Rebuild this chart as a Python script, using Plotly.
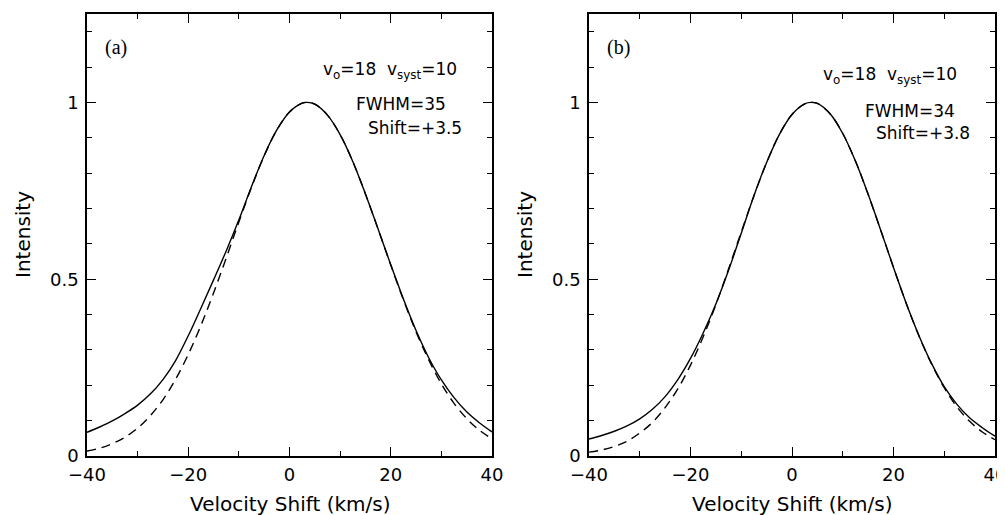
import plotly.graph_objects as go

# ---- data ----
velocity = [-40, -37.5, -35, -32.5, -30, -27.5, -25, -22.5, -20, -17.5, -15, -12.5, -10,
            -7.5, -5, -2.5, 0, 2.5, 3.5, 5, 7.5, 10, 12.5, 15, 17.5, 20, 22.5, 25,
            27.5, 30, 32.5, 35, 37.5, 40]

# panel (a)
a_profile = [0.067, 0.082, 0.099, 0.120, 0.144, 0.175, 0.216, 0.270, 0.340, 0.418, 0.498, 0.580, 0.668,
             0.762, 0.850, 0.922, 0.973, 0.998, 1.000, 0.995, 0.964, 0.909, 0.833, 0.741, 0.642, 0.541, 0.444, 0.355,
             0.278, 0.215, 0.165, 0.125, 0.094, 0.068]
a_fit = [0.014, 0.022, 0.035, 0.053, 0.079, 0.114, 0.159, 0.217, 0.287, 0.369, 0.461, 0.560, 0.662,
         0.760, 0.849, 0.922, 0.973, 0.998, 1.000, 0.995, 0.964, 0.909, 0.833, 0.741, 0.642, 0.540, 0.442, 0.351,
         0.272, 0.204, 0.149, 0.106, 0.073, 0.049]

velocity_b = [-40, -37.5, -35, -32.5, -30, -27.5, -25, -22.5, -20, -17.5, -15, -12.5, -10,
              -7.5, -5, -2.5, 0, 2.5, 3.8, 5, 7.5, 10, 12.5, 15, 17.5, 20, 22.5, 25,
              27.5, 30, 32.5, 35, 37.5, 40]
# panel (b)
b_profile = [0.048, 0.058, 0.070, 0.085, 0.105, 0.132, 0.168, 0.216, 0.276, 0.348, 0.430, 0.525, 0.630,
             0.736, 0.830, 0.909, 0.966, 0.996, 1.000, 0.997, 0.968, 0.912, 0.834, 0.740, 0.638, 0.533, 0.432, 0.341,
             0.262, 0.196, 0.146, 0.108, 0.080, 0.056]
b_fit = [0.011, 0.017, 0.027, 0.042, 0.065, 0.095, 0.137, 0.190, 0.257, 0.337, 0.428, 0.529, 0.633,
         0.736, 0.830, 0.909, 0.966, 0.996, 1.000, 0.997, 0.968, 0.912, 0.834, 0.740, 0.638, 0.533, 0.432, 0.340,
         0.260, 0.193, 0.139, 0.098, 0.068, 0.046]

panel_labels = ["(a)", "(b)"]
param_text = ["v<sub>o</sub>=18&nbsp;&nbsp;v<sub>syst</sub>=10", "v<sub>o</sub>=18&nbsp;&nbsp;v<sub>syst</sub>=10"]
fwhm_text = ["FWHM=35", "FWHM=34"]
shift_text = ["Shift=+3.5", "Shift=+3.8"]
x_ticks = [-40, -20, 0, 20, 40]
y_ticks = [0, 0.5, 1]
x_title = "Velocity Shift (km/s)"
y_title = "Intensity"

W, H = 1005, 515
OFF = 8  # page body margin: page px = figure px + OFF
FONT = "DejaVu Sans"

def fx(px):
    return (px - OFF) / W

def fy(py):
    return 1 - (py - OFF) / H

fig = go.Figure()

line_solid = dict(color="black", width=1.4, shape="spline", smoothing=1.0)
line_dash = dict(color="black", width=1.4, dash="9px,6px", shape="spline", smoothing=1.0)

fig.add_trace(go.Scatter(x=velocity, y=a_profile, mode="lines", line=line_solid, xaxis="x", yaxis="y"))
fig.add_trace(go.Scatter(x=velocity, y=a_fit, mode="lines", line=line_dash, xaxis="x", yaxis="y"))
fig.add_trace(go.Scatter(x=velocity_b, y=b_profile, mode="lines", line=line_solid, xaxis="x2", yaxis="y2"))
fig.add_trace(go.Scatter(x=velocity_b, y=b_fit, mode="lines", line=line_dash, xaxis="x2", yaxis="y2"))

# page-pixel layout of the two panels
panels = [(87, 492), (589, 995)]
top_px, bot_px = 14, 456
ydom = [fy(bot_px), fy(top_px)]

def xaxis_cfg(x0, x1, anchor):
    return dict(
        domain=[fx(x0), fx(x1)], anchor=anchor, range=[-40, 40], automargin=False,
        tickmode="array", tickvals=x_ticks, ticks="inside", ticklen=9, tickwidth=1.3,
        tickcolor="black", mirror="allticks", showline=True, linecolor="black", linewidth=1.6,
        showgrid=False, zeroline=False, tickfont=dict(family=FONT, size=18, color="black"),
        ticklabelstandoff=2,
        minor=dict(tickvals=[-30, -10, 10, 30], ticks="inside", ticklen=5, tickwidth=1.3, tickcolor="black"),
        fixedrange=True,
    )

def yaxis_cfg(anchor):
    return dict(
        domain=ydom, anchor=anchor, range=[0, 1.25], automargin=False,
        tickmode="array", tickvals=y_ticks, ticktext=["0", "0.5", "1"], ticks="inside", ticklen=9,
        tickwidth=1.3, tickcolor="black", mirror="allticks", showline=True, linecolor="black",
        linewidth=1.6, showgrid=False, zeroline=False,
        tickfont=dict(family=FONT, size=18, color="black"), ticklabelstandoff=3,
        minor=dict(tickvals=[0.1, 0.2, 0.3, 0.4, 0.6, 0.7, 0.8, 0.9, 1.1, 1.2], ticks="inside",
                   ticklen=5, tickwidth=1.3, tickcolor="black"),
        fixedrange=True,
    )

fig.update_layout(
    width=W, height=H, margin=dict(l=0, r=0, t=0, b=0, autoexpand=False),
    paper_bgcolor="white", plot_bgcolor="white", showlegend=False,
    xaxis=xaxis_cfg(*panels[0], "y"), yaxis=yaxis_cfg("x"),
    xaxis2=xaxis_cfg(*panels[1], "y2"), yaxis2=yaxis_cfg("x2"),
)

text_y = [(70, 104, 128), (75, 111, 133)]
text_x = [(390, 401, 415), (890, 910, 923)]
for i, (x0, x1) in enumerate(panels):
    anns = [
        dict(x=fx(x0 + 29), y=fy(48), text=panel_labels[i],
             font=dict(family="Liberation Serif", size=20, color="black")),
        dict(x=fx(text_x[i][0]), y=fy(text_y[i][0]), text=param_text[i],
             font=dict(family=FONT, size=17, color="black")),
        dict(x=fx(text_x[i][1]), y=fy(text_y[i][1]), text=fwhm_text[i],
             font=dict(family=FONT, size=17, color="black")),
        dict(x=fx(text_x[i][2]), y=fy(text_y[i][2]), text=shift_text[i],
             font=dict(family=FONT, size=17, color="black")),
        dict(x=fx((x0 + x1) / 2), y=fy(504), text=x_title,
             font=dict(family=FONT, size=20, color="black")),
        dict(x=fx(x0 - 64), y=fy(235), text=y_title, textangle=-90,
             font=dict(family=FONT, size=20, color="black")),
    ]
    for a in anns:
        a.update(xref="paper", yref="paper", showarrow=False, xanchor="center", yanchor="middle")
        fig.add_annotation(**a)

fig.write_html("out.html")
